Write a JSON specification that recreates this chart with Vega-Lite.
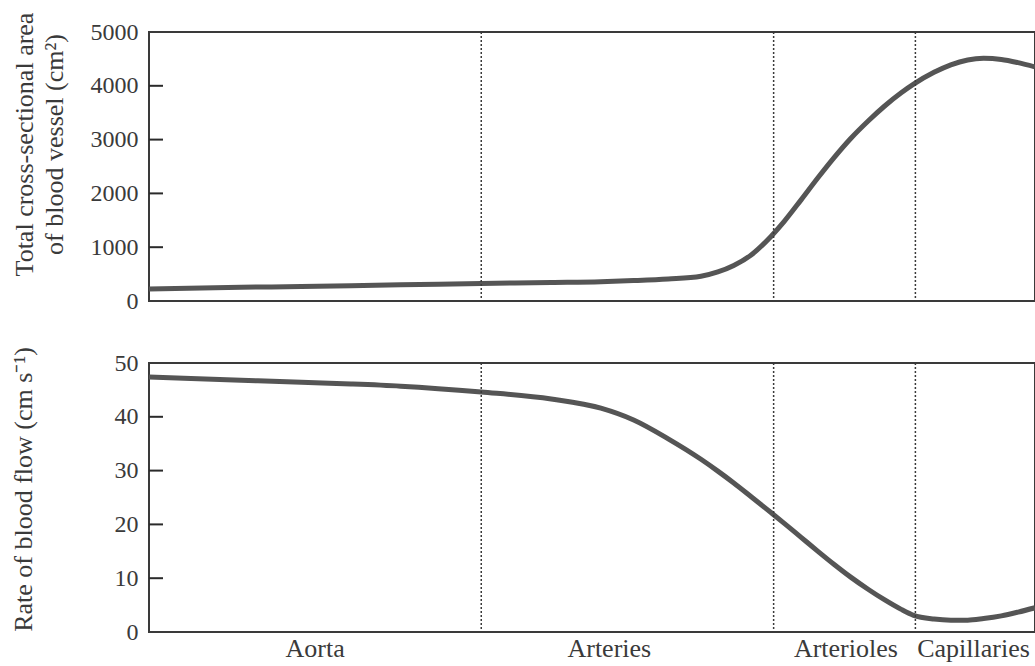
{
  "$schema": "https://vega.github.io/schema/vega-lite/v6.json",
  "background": "white",
  "padding": {"left": 8, "top": 11, "right": 0, "bottom": 0},
  "bounds": "flush",
  "config": {
    "font": "Liberation Serif",
    "view": {"stroke": "#3a3a3a", "strokeWidth": 2},
    "axis": {"domain": false, "ticks": false, "labelColor": "#3a3a3a", "titleColor": "#3a3a3a", "grid": false, "labelFont": "Liberation Serif", "titleFont": "Liberation Serif", "titleFontWeight": "normal"}
  },
  "datasets": {
    "curve": [
      {"pos": 0, "area": 225, "flow": 47.4},
      {"pos": 10.4, "area": 255, "flow": 46.8},
      {"pos": 17.2, "area": 270, "flow": 46.4},
      {"pos": 22.8, "area": 285, "flow": 46.1},
      {"pos": 28.4, "area": 300, "flow": 45.7},
      {"pos": 37.5, "area": 325, "flow": 44.6},
      {"pos": 45.4, "area": 345, "flow": 43.3},
      {"pos": 51.0, "area": 360, "flow": 41.6},
      {"pos": 54.7, "area": 380, "flow": 39.4},
      {"pos": 58.6, "area": 410, "flow": 35.9},
      {"pos": 62.3, "area": 460, "flow": 32.1},
      {"pos": 64.2, "area": 540, "flow": 29.9},
      {"pos": 66.0, "area": 660, "flow": 27.7},
      {"pos": 68.0, "area": 860, "flow": 25.1},
      {"pos": 70.2, "area": 1200, "flow": 22.2},
      {"pos": 71.7, "area": 1480, "flow": 20.2},
      {"pos": 73.6, "area": 1880, "flow": 17.6},
      {"pos": 75.5, "area": 2290, "flow": 15.0},
      {"pos": 77.3, "area": 2660, "flow": 12.6},
      {"pos": 79.2, "area": 3020, "flow": 10.2},
      {"pos": 81.2, "area": 3350, "flow": 7.9},
      {"pos": 83.0, "area": 3620, "flow": 6.0},
      {"pos": 84.9, "area": 3870, "flow": 4.2},
      {"pos": 86.3, "area": 4030, "flow": 3.1},
      {"pos": 88.6, "area": 4250, "flow": 2.4},
      {"pos": 90.5, "area": 4390, "flow": 2.2},
      {"pos": 92.4, "area": 4480, "flow": 2.2},
      {"pos": 94.2, "area": 4510, "flow": 2.5},
      {"pos": 96.2, "area": 4490, "flow": 3.0},
      {"pos": 98.1, "area": 4430, "flow": 3.7},
      {"pos": 100, "area": 4350, "flow": 4.5}
    ],
    "bounds": [
      {"pos": 37.5},
      {"pos": 70.5},
      {"pos": 86.5}
    ],
    "areaTicks": [
      {"v": 1000}, {"v": 2000}, {"v": 3000}, {"v": 4000}
    ],
    "flowTicks": [
      {"v": 10}, {"v": 20}, {"v": 30}, {"v": 40}
    ]
  },
  "vconcat": [
    {
      "width": 886,
      "height": 269,
      "resolve": {"axis": {"x": "independent", "y": "independent"}},
      "layer": [
        {
          "data": {"name": "curve"},
          "mark": {"type": "line", "color": "#555555", "strokeWidth": 5, "interpolate": "monotone"},
          "encoding": {
            "x": {"field": "pos", "type": "quantitative", "scale": {"domain": [0, 100], "nice": false}, "axis": null},
            "y": {"field": "area", "type": "quantitative", "scale": {"domain": [0, 5000], "nice": false},
              "axis": {"values": [0, 1000, 2000, 3000, 4000, 5000], "format": "d", "labelPadding": 11, "labelFontSize": 24,
                "title": ["Total cross-sectional area", "of blood vessel (cm²)"], "titleFontSize": 26, "titleLineHeight": 30,
                "titleX": -117, "titleY": 112, "titleBaseline": "alphabetic", "titleAngle": 270}}
          }
        },
        {
          "data": {"name": "bounds"},
          "mark": {"type": "rule", "color": "#3a3a3a", "strokeWidth": 1.5, "strokeDash": [2, 2]},
          "encoding": {
            "x": {"field": "pos", "type": "quantitative", "axis": null}
          }
        },
        {
          "data": {"name": "areaTicks"},
          "mark": {"type": "rule", "color": "#2a2a2a", "strokeWidth": 2},
          "encoding": {
            "x": {"datum": 0, "type": "quantitative", "axis": null},
            "x2": {"datum": 1.58},
            "y": {"field": "v", "type": "quantitative", "axis": null}
          }
        }
      ]
    },
    {
      "width": 886,
      "height": 269,
      "resolve": {"axis": {"x": "independent", "y": "independent"}},
      "layer": [
        {
          "data": {"name": "curve"},
          "mark": {"type": "line", "color": "#555555", "strokeWidth": 5, "interpolate": "monotone"},
          "encoding": {
            "x": {"field": "pos", "type": "quantitative", "scale": {"domain": [0, 100], "nice": false},
              "axis": {"values": [18.7, 51.9, 78.6, 93.0], "labelFontSize": 26, "labelPadding": 3, "title": null,
                "labelExpr": "datum.value < 30 ? 'Aorta' : datum.value < 60 ? 'Arteries' : datum.value < 85 ? 'Arterioles' : 'Capillaries'"}},
            "y": {"field": "flow", "type": "quantitative", "scale": {"domain": [0, 50], "nice": false},
              "axis": {"values": [0, 10, 20, 30, 40, 50], "format": "d", "labelPadding": 11, "labelFontSize": 24,
                "title": "Rate of blood flow (cm s⁻¹)", "titleFontSize": 26,
                "titleX": -118, "titleY": 126, "titleBaseline": "alphabetic", "titleAngle": 270}}
          }
        },
        {
          "data": {"name": "bounds"},
          "mark": {"type": "rule", "color": "#3a3a3a", "strokeWidth": 1.5, "strokeDash": [2, 2]},
          "encoding": {
            "x": {"field": "pos", "type": "quantitative", "axis": null}
          }
        },
        {
          "data": {"name": "flowTicks"},
          "mark": {"type": "rule", "color": "#2a2a2a", "strokeWidth": 2},
          "encoding": {
            "x": {"datum": 0, "type": "quantitative", "axis": null},
            "x2": {"datum": 1.58},
            "y": {"field": "v", "type": "quantitative", "axis": null}
          }
        }
      ]
    }
  ],
  "spacing": 62
}
